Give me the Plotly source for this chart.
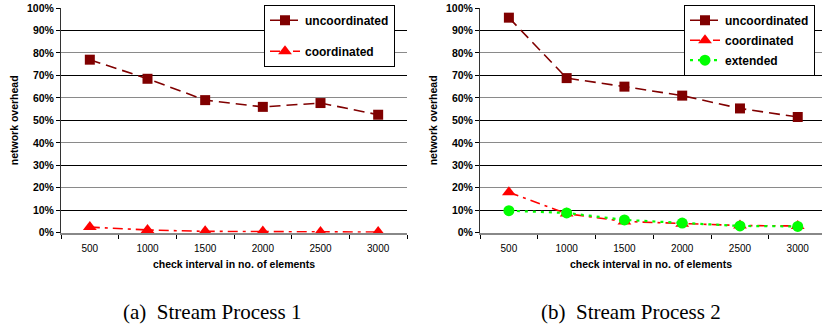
import plotly.graph_objects as go

categories = ["500", "1000", "1500", "2000", "2500", "3000"]
y_ticks = [0, 0.1, 0.2, 0.3, 0.4, 0.5, 0.6, 0.7, 0.8, 0.9, 1.0]

# Stream Process 1
sp1_uncoord = [0.770, 0.685, 0.590, 0.560, 0.577, 0.525]
sp1_coord = [0.025, 0.012, 0.006, 0.005, 0.003, 0.003]

# Stream Process 2
sp2_uncoord = [0.957, 0.688, 0.650, 0.610, 0.553, 0.515]
sp2_coord = [0.180, 0.085, 0.050, 0.040, 0.032, 0.030]
sp2_ext = [0.098, 0.088, 0.057, 0.043, 0.030, 0.028]

DARK = "#800000"
RED = "#FF0000"
GREEN = "#00FF00"

fig = go.Figure()

def add(x, y, name, color, dash, symbol, size, xa, ya, legend, group, width=1.6):
    fig.add_trace(go.Scatter(
        x=x, y=y, name=name, mode="lines+markers",
        line=dict(color=color, dash=dash, width=width),
        marker=dict(symbol=symbol, size=size, color=color),
        xaxis=xa, yaxis=ya, legend=legend, legendgroup=group,
        cliponaxis=False,
    ))

add(categories, sp1_uncoord, "uncoordinated", DARK, "11px,6px", "square", 10, "x", "y", "legend", "a1")
add(categories, sp1_coord, "coordinated", RED, "10px,5px,3px,5px", "triangle-up", 12, "x", "y", "legend", "a2")

add(categories, sp2_uncoord, "uncoordinated", DARK, "11px,6px", "square", 10, "x2", "y2", "legend2", "b1")
add(categories, sp2_coord, "coordinated", RED, "10px,5px,3px,5px", "triangle-up", 12, "x2", "y2", "legend2", "b2")
add(categories, sp2_ext, "extended", GREEN, "3px,5px", "circle", 11, "x2", "y2", "legend2", "b3", width=2.2)

# invisible traces for overlay grid axes
for xa, ya in (("x", "y3"), ("x2", "y4")):
    fig.add_trace(go.Scatter(x=categories, y=[None] * len(categories), xaxis=xa, yaxis=ya,
                             showlegend=False, hoverinfo="skip", mode="lines"))

W, H = 822, 329
ytop = 1 - 8 / H
ybot = 1 - 232.7 / H

SANS = "Liberation Sans, Arial"
tickfont_y = dict(family=SANS, size=10.5, color="black", weight="bold")
tickfont_x = dict(family=SANS, size=10, color="black")
titlefont = dict(family=SANS, size=10.5, color="black", weight="bold")

def yaxis(anchor):
    return dict(
        domain=[ybot, ytop], range=[0, 1], anchor=anchor, automargin=False,
        tickvals=y_ticks, ticktext=[f"{int(round(v*100))}%" for v in y_ticks],
        tickfont=tickfont_y, showgrid=True, gridcolor="#8a8a8a", gridwidth=1,
        showline=True, linecolor="#333", linewidth=1, ticks="outside", ticklen=4,
        tickcolor="black", zeroline=False, fixedrange=True,
        title=dict(text="network overhead", font=dict(family=SANS, size=10.5, color="black", weight="bold"), standoff=6),
    )

def overlay_y(over, anchor):
    return dict(
        overlaying=over, anchor=anchor, range=[0, 1], tick0=0.1, dtick=0.2, automargin=False,
        showgrid=True, gridcolor="black", gridwidth=1, showticklabels=False,
        ticks="", showline=False, zeroline=False,
    )

def xaxis(domain, rng, anchor):
    return dict(
        domain=domain, range=rng, anchor=anchor, type="category", automargin=False,
        tickson="boundaries", ticks="outside", ticklen=4, tickcolor="black",
        ticklabelstandoff=5,
        showline=True, linecolor="#888", linewidth=2, showgrid=False,
        tickfont=tickfont_x, fixedrange=True,
        title=dict(text="check interval in no. of elements", font=titlefont, standoff=8),
    )

legfont = dict(family=SANS, size=12, color="black", weight="bold")

fig.update_layout(
    width=W, height=H,
    margin=dict(l=0, r=0, t=0, b=0, autoexpand=False),
    paper_bgcolor="white", plot_bgcolor="white",
    xaxis=xaxis([61 / W, 407 / W], [-0.5, 5.5], "y"),
    yaxis=yaxis("x"),
    xaxis2=xaxis([480 / W, 1.0], [-0.5, 5.42], "y2"),
    yaxis2=yaxis("x2"),
    yaxis3=overlay_y("y", "x"),
    yaxis4=overlay_y("y2", "x2"),
    legend=dict(x=264 / W, y=1 - 4.7 / H, xanchor="left", yanchor="top",
                bordercolor="black", borderwidth=1, bgcolor="white",
                font=legfont, tracegroupgap=12, itemwidth=30, entrywidth=100),
    legend2=dict(x=684 / W, y=1 - 4.7 / H, xanchor="left", yanchor="top",
                 bordercolor="black", borderwidth=1, bgcolor="white",
                 font=legfont, tracegroupgap=1, itemwidth=30, entrywidth=94),
    showlegend=True,
    annotations=[
        dict(text="(a)\u00a0 Stream Process 1", x=212 / W, y=1 - 312 / H, xref="paper", yref="paper",
             xanchor="center", yanchor="middle", showarrow=False,
             font=dict(family="Liberation Serif, Times New Roman", size=21, color="black")),
        dict(text="(b)\u00a0 Stream Process 2", x=631 / W, y=1 - 312 / H, xref="paper", yref="paper",
             xanchor="center", yanchor="middle", showarrow=False,
             font=dict(family="Liberation Serif, Times New Roman", size=21, color="black")),
    ],
)

fig.write_html("out.html", config={"displayModeBar": False},
               post_script="document.body.style.margin='0';document.body.style.overflow='hidden';")
